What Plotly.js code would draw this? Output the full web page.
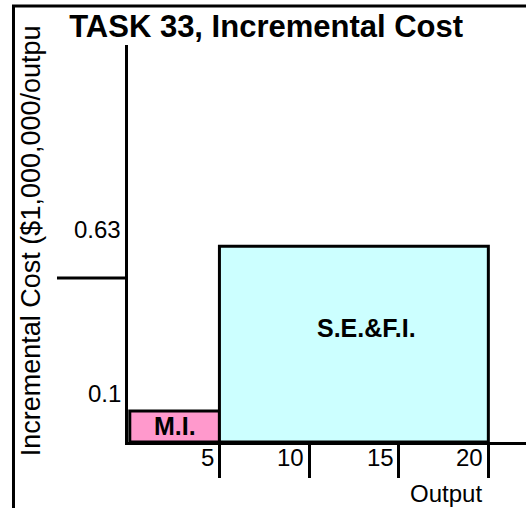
<!DOCTYPE html>
<html>
<head>
<meta charset="utf-8">
<script src="https://cdn.plot.ly/plotly-3.0.1.min.js"></script>
<style>html,body{margin:0;padding:0;background:#fff;}#chart{width:526px;height:508px;}</style>
</head>
<body>
<div id="chart"></div>
<script>
// Data
const categories = ['M.I.', 'S.E.&F.I.'];
const segmentStart = [0, 5];
const segmentEnd = [5, 20];
const costValues = [0.1, 0.63];
const xTickVals = [5, 10, 15, 20];
const xTickLabels = ['5', '10', '15', '20'];
const yTickVals = [0.63, 0.1];
const yTickLabels = ['0.63', '0.1'];
const fillColors = ['#FF99CC', '#CCFFFF'];

const FONT = 'Liberation Sans, Arial, sans-serif';
const widths = segmentStart.map((s, i) => segmentEnd[i] - s);
const centers = segmentStart.map((s, i) => s + widths[i] / 2);

const trace = {
  type: 'bar',
  x: segmentStart,
  y: costValues,
  width: widths,
  offset: 0,
  marker: { color: fillColors, line: { color: '#000', width: 3 } },
  hoverinfo: 'skip',
  showlegend: false
};

const annotations = [];
// x tick labels
xTickVals.forEach((v, i) => annotations.push({
  x: v, xref: 'x', y: 0, yref: 'paper', text: xTickLabels[i],
  xanchor: 'right', yanchor: 'top', xshift: -3, yshift: 0, showarrow: false,
  font: { family: FONT, size: 24, color: '#000' }
}));
// y tick labels
yTickVals.forEach((v, i) => annotations.push({
  x: 0, xref: 'paper', y: v, yref: 'y', text: yTickLabels[i],
  xanchor: 'right', yanchor: 'middle', xshift: -5, yshift: 17, showarrow: false,
  font: { family: FONT, size: 24, color: '#000' }
}));
// segment labels
const labelShift = [[0, 0], [13, 16]];
categories.forEach((c, i) => annotations.push({
  x: centers[i], xref: 'x', y: costValues[i] / 2, yref: 'y', text: '<b>' + c + '</b>',
  xanchor: 'center', yanchor: 'middle', xshift: labelShift[i][0], yshift: labelShift[i][1], showarrow: false,
  font: { family: FONT, size: 25, color: '#000' }
}));
// axis titles
annotations.push({
  x: 0.80, xref: 'paper', y: -0.13, yref: 'paper', text: 'Output',
  xanchor: 'center', yanchor: 'middle', showarrow: false,
  font: { family: FONT, size: 24, color: '#000' }
});
annotations.push({
  x: -0.244, xref: 'paper', y: 0.508, yref: 'paper', text: 'Incremental Cost ($1,000,000/outpu',
  textangle: -90, xanchor: 'center', yanchor: 'middle', showarrow: false,
  font: { family: FONT, size: 27, color: '#000' }
});

const layout = {
  width: 526, height: 508,
  margin: { l: 128, r: 0, t: 45, b: 66 },
  paper_bgcolor: '#fff', plot_bgcolor: '#fff',
  title: {
    text: 'TASK 33, Incremental Cost',
    font: { family: FONT, size: 31, color: '#000', weight: 'bold' },
    x: 0.506, xanchor: 'center', y: 0.949, yanchor: 'middle'
  },
  xaxis: {
    range: [-0.1, 22.1], showgrid: false, zeroline: false,
    showline: true, linecolor: '#000', linewidth: 3,
    tickmode: 'array', tickvals: xTickVals, ticktext: xTickLabels,
    ticks: 'outside', ticklen: 33, tickwidth: 3, tickcolor: '#000',
    showticklabels: false, fixedrange: true
  },
  yaxis: {
    range: [0, 1.277], showgrid: false, zeroline: false,
    showline: true, linecolor: '#000', linewidth: 3,
    ticks: '', showticklabels: false, fixedrange: true
  },
  shapes: [
    // outer frame (left and top)
    { type: 'path', xref: 'paper', yref: 'paper',
      path: 'M -0.2877 -0.2 L -0.2877 1.0982 L 1.01 1.0982',
      line: { color: '#000', width: 3 } },
    // stray tick on y axis
    { type: 'line', xref: 'paper', yref: 'paper',
      x0: -0.1784, x1: 0, y0: 0.413, y1: 0.413,
      line: { color: '#000', width: 3 } }
  ],
  annotations: annotations,
  bargap: 0
};

Plotly.newPlot('chart', [trace], layout, { staticPlot: true, displayModeBar: false });
</script>
</body>
</html>
